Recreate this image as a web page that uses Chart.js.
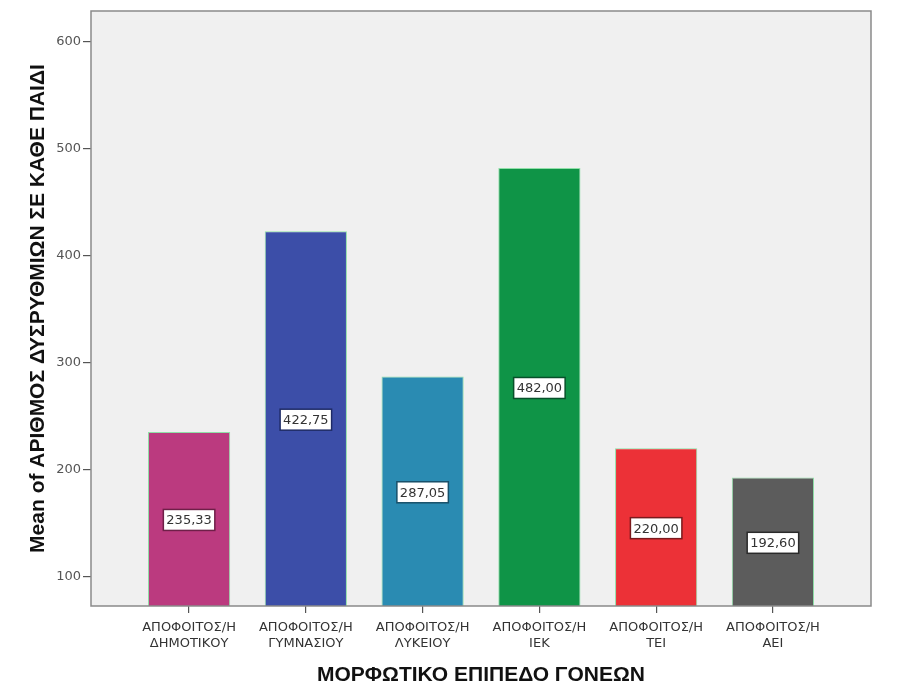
<!DOCTYPE html>
<html>
<head>
<meta charset="utf-8">
<script src="https://cdn.jsdelivr.net/npm/chart.js@4/dist/chart.umd.min.js"></script>
<style>
  html, body { margin: 0; padding: 0; background: #fff; }
  #wrap { width: 899px; height: 699px; }
</style>
</head>
<body>
<div id="wrap"><canvas id="chart" width="899" height="699"></canvas></div>
<script>
// categories (two-line tick labels)
const categories = [
  ['ΑΠΟΦΟΙΤΟΣ/Η', 'ΔΗΜΟΤΙΚΟΥ'],
  ['ΑΠΟΦΟΙΤΟΣ/Η', 'ΓΥΜΝΑΣΙΟΥ'],
  ['ΑΠΟΦΟΙΤΟΣ/Η', 'ΛΥΚΕΙΟΥ'],
  ['ΑΠΟΦΟΙΤΟΣ/Η', 'ΙΕΚ'],
  ['ΑΠΟΦΟΙΤΟΣ/Η', 'ΤΕΙ'],
  ['ΑΠΟΦΟΙΤΟΣ/Η', 'ΑΕΙ']
];
const means = [235.33, 422.75, 287.05, 482.00, 220.00, 192.60];
const barColors = ['#bb3a7f', '#3c4ea8', '#2a8bb2', '#0f9447', '#ec3137', '#5c5c5c'];
const labelBorders = ['#6e1f48', '#1e2a66', '#17506a', '#07502a', '#7a1a1d', '#2a2a2a'];
const yTicks = [100, 200, 300, 400, 500, 600];

const titleFont = '"Liberation Sans", Arial, sans-serif';
const smallFont = '"DejaVu Sans", sans-serif';

// frame around plot area + background
const framePlugin = {
  id: 'frame',
  beforeDraw(chart) {
    const { ctx, chartArea: a } = chart;
    ctx.save();
    ctx.fillStyle = '#f0f0f0';
    ctx.fillRect(a.left, a.top, a.right - a.left, a.bottom - a.top);
    ctx.restore();
  },
  afterDraw(chart) {
    const { ctx, chartArea: a } = chart;
    ctx.save();
    ctx.strokeStyle = '#8a8a8a';
    ctx.lineWidth = 1.5;
    ctx.strokeRect(a.left, a.top, a.right - a.left, a.bottom - a.top);
    ctx.restore();
  }
};

// value boxes in the middle of the visible part of each bar
const valueBoxes = {
  id: 'valueBoxes',
  afterDatasetsDraw(chart) {
    const { ctx, chartArea } = chart;
    const meta = chart.getDatasetMeta(0);
    ctx.save();
    ctx.font = '13px ' + smallFont;
    ctx.textAlign = 'center';
    ctx.textBaseline = 'middle';
    meta.data.forEach((bar, i) => {
      const text = means[i].toFixed(2).replace('.', ',');
      const cx = bar.x;
      const cy = (bar.y + Math.min(bar.base, chartArea.bottom)) / 2 + 1;
      const w = ctx.measureText(text).width + 6;
      const h = 21;
      ctx.fillStyle = '#ffffff';
      ctx.fillRect(cx - w / 2, cy - h / 2, w, h);
      ctx.strokeStyle = labelBorders[i];
      ctx.lineWidth = 1.5;
      ctx.strokeRect(cx - w / 2, cy - h / 2, w, h);
      ctx.fillStyle = '#333';
      ctx.fillText(text, cx, cy + 1);
    });
    ctx.restore();
  }
};

new Chart(document.getElementById('chart'), {
  type: 'bar',
  data: {
    datasets: [{
      data: means.map((v, i) => ({ x: i + 1, y: v })),
      backgroundColor: barColors,
      borderColor: 'rgba(120, 220, 150, 0.8)',
      borderWidth: 1,
      barPercentage: 0.88,
      categoryPercentage: 0.8
    }]
  },
  options: {
    responsive: false,
    animation: false,
    layout: { padding: { top: 11, right: 28, left: 0, bottom: 0 } },
    plugins: { legend: { display: false }, tooltip: { enabled: false } },
    scales: {
      x: {
        type: 'linear',
        bounds: 'data',
        offset: false,
        min: 0.16,
        max: 6.84,
        afterBuildTicks: scale => { scale.ticks = categories.map((c, i) => ({ value: i + 1 })); },
        afterFit: scale => { scale.height = 93; },
        grid: { drawOnChartArea: false, offset: false, tickLength: 7, color: '#555', lineWidth: 1.2 },
        border: { display: false },
        ticks: {
          callback: (v) => categories[v - 1],
          maxRotation: 0,
          autoSkip: false,
          padding: 7,
          color: '#333',
          font: { family: smallFont, size: 13, lineHeight: '16px' }
        },
        title: {
          display: true,
          text: 'ΜΟΡΦΩΤΙΚΟ ΕΠΙΠΕΔΟ ΓΟΝΕΩΝ',
          color: '#111',
          font: { family: titleFont, size: 21, weight: 'bold' },
          padding: { top: 0, bottom: 11 }
        }
      },
      y: {
        bounds: 'data',
        min: 72.6,
        max: 628.7,
        afterBuildTicks: scale => { scale.ticks = yTicks.map(v => ({ value: v })); },
        afterFit: scale => { scale.width = 91; },
        grid: { drawOnChartArea: false, tickLength: 8, color: '#555', lineWidth: 1.2 },
        border: { display: false },
        ticks: {
          padding: 2,
          color: '#555',
          font: { family: smallFont, size: 13 }
        },
        title: {
          display: true,
          text: 'Mean of ΑΡΙΘΜΟΣ ΔΥΣΡΥΘΜΙΩΝ ΣΕ ΚΑΘΕ ΠΑΙΔΙ',
          color: '#111',
          font: { family: titleFont, size: 21, weight: 'bold' },
          padding: { top: 26, bottom: 0 }
        }
      }
    }
  },
  plugins: [framePlugin, valueBoxes]
});
</script>
</body>
</html>
